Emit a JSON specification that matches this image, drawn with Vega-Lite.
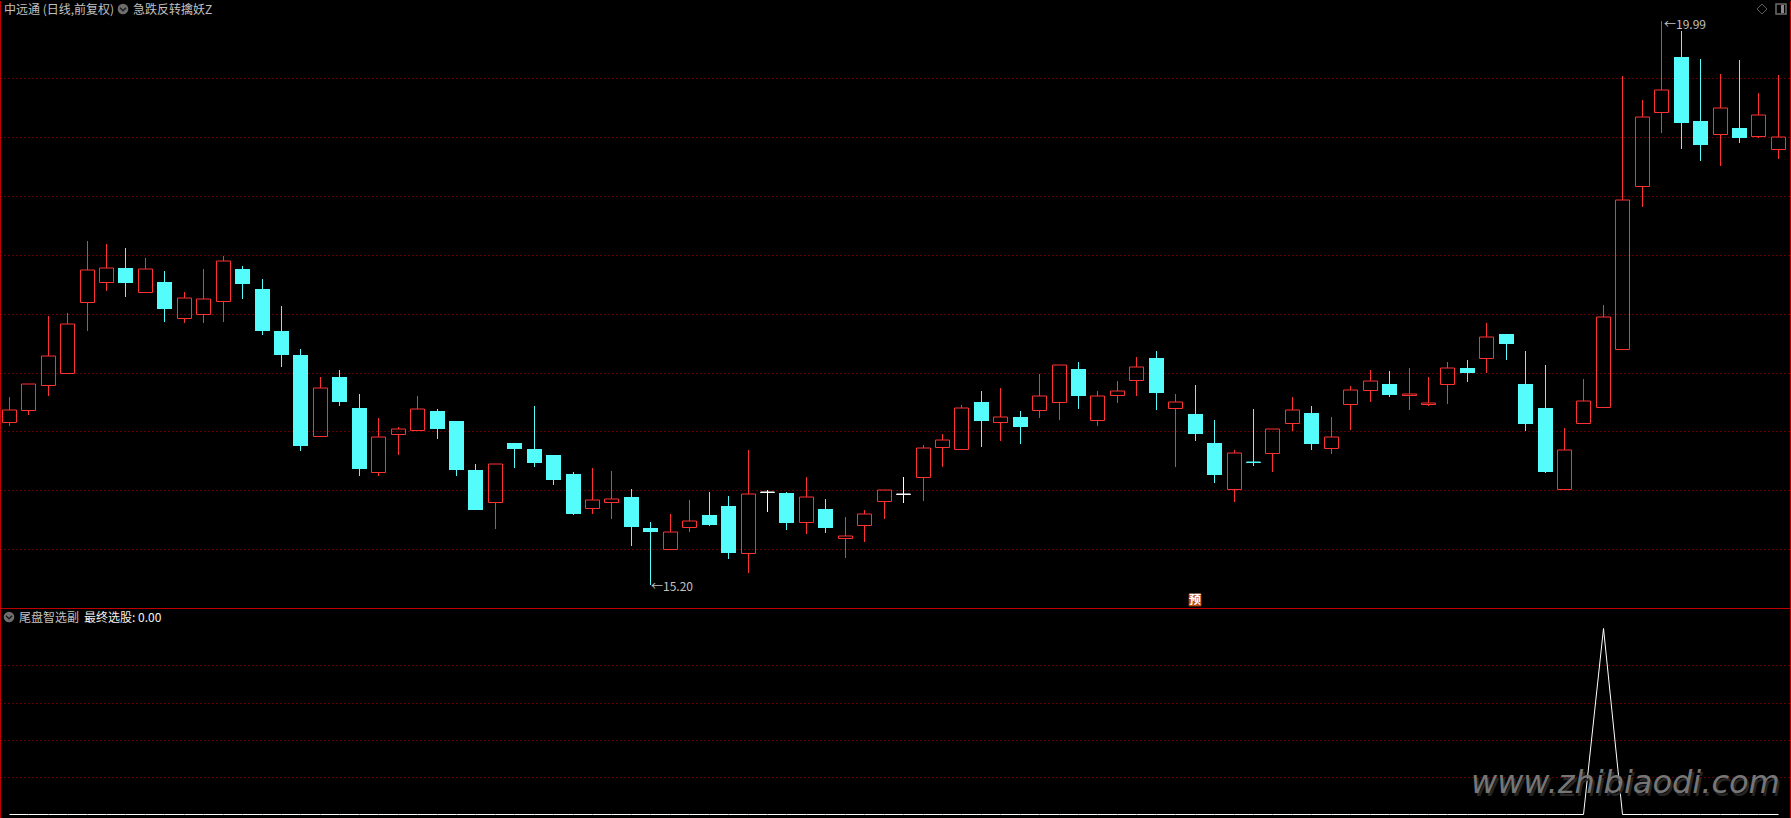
{
"$schema":"https://vega.github.io/schema/vega-lite/v6.json",
"background":"#000000",
"padding":0,
"spacing":0,
"bounds":"flush",
"config":{"view":{"stroke":null},"concat":{"spacing":0}},
"datasets":{
"candles":[
{"i":0,"open":16.580,"high":16.792,"low":16.546,"close":16.682,"kind":"up"},
{"i":1,"open":16.682,"high":16.902,"low":16.640,"close":16.902,"kind":"up"},
{"i":2,"open":16.894,"high":17.480,"low":16.800,"close":17.140,"kind":"up"},
{"i":3,"open":16.996,"high":17.506,"low":16.996,"close":17.412,"kind":"up"},
{"i":4,"open":17.599,"high":18.118,"low":17.353,"close":17.871,"kind":"up"},
{"i":5,"open":17.769,"high":18.092,"low":17.693,"close":17.888,"kind":"up"},
{"i":6,"open":17.888,"high":18.058,"low":17.642,"close":17.761,"kind":"down"},
{"i":7,"open":17.684,"high":17.973,"low":17.684,"close":17.880,"kind":"up"},
{"i":8,"open":17.769,"high":17.863,"low":17.429,"close":17.540,"kind":"down"},
{"i":9,"open":17.463,"high":17.684,"low":17.421,"close":17.633,"kind":"up"},
{"i":10,"open":17.497,"high":17.880,"low":17.421,"close":17.625,"kind":"up"},
{"i":11,"open":17.608,"high":17.990,"low":17.429,"close":17.948,"kind":"up"},
{"i":12,"open":17.880,"high":17.905,"low":17.625,"close":17.752,"kind":"down"},
{"i":13,"open":17.710,"high":17.795,"low":17.319,"close":17.353,"kind":"down"},
{"i":14,"open":17.353,"high":17.565,"low":17.047,"close":17.149,"kind":"down"},
{"i":15,"open":17.149,"high":17.200,"low":16.334,"close":16.376,"kind":"down"},
{"i":16,"open":16.461,"high":16.962,"low":16.461,"close":16.868,"kind":"up"},
{"i":17,"open":16.962,"high":17.021,"low":16.716,"close":16.750,"kind":"down"},
{"i":18,"open":16.699,"high":16.817,"low":16.121,"close":16.181,"kind":"down"},
{"i":19,"open":16.155,"high":16.614,"low":16.121,"close":16.453,"kind":"up"},
{"i":20,"open":16.478,"high":16.538,"low":16.300,"close":16.521,"kind":"up"},
{"i":21,"open":16.512,"high":16.800,"low":16.512,"close":16.691,"kind":"up"},
{"i":22,"open":16.674,"high":16.691,"low":16.436,"close":16.521,"kind":"down"},
{"i":23,"open":16.589,"high":16.589,"low":16.121,"close":16.172,"kind":"down"},
{"i":24,"open":16.172,"high":16.223,"low":15.832,"close":15.832,"kind":"down"},
{"i":25,"open":15.900,"high":16.223,"low":15.671,"close":16.223,"kind":"up"},
{"i":26,"open":16.402,"high":16.402,"low":16.189,"close":16.351,"kind":"down"},
{"i":27,"open":16.351,"high":16.716,"low":16.198,"close":16.232,"kind":"down"},
{"i":28,"open":16.300,"high":16.300,"low":16.045,"close":16.087,"kind":"down"},
{"i":29,"open":16.138,"high":16.155,"low":15.790,"close":15.798,"kind":"down"},
{"i":30,"open":15.849,"high":16.189,"low":15.798,"close":15.917,"kind":"up"},
{"i":31,"open":15.900,"high":16.164,"low":15.756,"close":15.926,"kind":"up"},
{"i":32,"open":15.943,"high":16.011,"low":15.526,"close":15.688,"kind":"down"},
{"i":33,"open":15.679,"high":15.730,"low":15.195,"close":15.645,"kind":"down"},
{"i":34,"open":15.501,"high":15.798,"low":15.501,"close":15.645,"kind":"up"},
{"i":35,"open":15.688,"high":15.917,"low":15.645,"close":15.739,"kind":"up"},
{"i":36,"open":15.790,"high":15.985,"low":15.696,"close":15.705,"kind":"down"},
{"i":37,"open":15.866,"high":15.951,"low":15.416,"close":15.467,"kind":"down"},
{"i":38,"open":15.467,"high":16.342,"low":15.297,"close":15.968,"kind":"up"},
{"i":39,"open":15.985,"high":16.002,"low":15.815,"close":15.985,"kind":"flat"},
{"i":40,"open":15.977,"high":15.985,"low":15.662,"close":15.722,"kind":"down"},
{"i":41,"open":15.730,"high":16.113,"low":15.628,"close":15.943,"kind":"up"},
{"i":42,"open":15.841,"high":15.926,"low":15.637,"close":15.679,"kind":"down"},
{"i":43,"open":15.594,"high":15.773,"low":15.424,"close":15.611,"kind":"up"},
{"i":44,"open":15.705,"high":15.832,"low":15.560,"close":15.798,"kind":"up"},
{"i":45,"open":15.909,"high":16.002,"low":15.756,"close":16.002,"kind":"up"},
{"i":46,"open":15.968,"high":16.113,"low":15.892,"close":15.968,"kind":"flat"},
{"i":47,"open":16.113,"high":16.385,"low":15.909,"close":16.359,"kind":"up"},
{"i":48,"open":16.368,"high":16.478,"low":16.198,"close":16.427,"kind":"up"},
{"i":49,"open":16.351,"high":16.725,"low":16.351,"close":16.699,"kind":"up"},
{"i":50,"open":16.750,"high":16.843,"low":16.368,"close":16.589,"kind":"down"},
{"i":51,"open":16.580,"high":16.868,"low":16.419,"close":16.623,"kind":"up"},
{"i":52,"open":16.623,"high":16.674,"low":16.393,"close":16.538,"kind":"down"},
{"i":53,"open":16.682,"high":16.987,"low":16.614,"close":16.800,"kind":"up"},
{"i":54,"open":16.750,"high":17.064,"low":16.597,"close":17.064,"kind":"up"},
{"i":55,"open":17.030,"high":17.089,"low":16.691,"close":16.800,"kind":"down"},
{"i":56,"open":16.597,"high":16.843,"low":16.546,"close":16.800,"kind":"up"},
{"i":57,"open":16.809,"high":16.928,"low":16.742,"close":16.843,"kind":"up"},
{"i":58,"open":16.936,"high":17.132,"low":16.800,"close":17.047,"kind":"up"},
{"i":59,"open":17.123,"high":17.183,"low":16.682,"close":16.826,"kind":"down"},
{"i":60,"open":16.699,"high":16.817,"low":16.198,"close":16.750,"kind":"up"},
{"i":61,"open":16.648,"high":16.894,"low":16.419,"close":16.478,"kind":"down"},
{"i":62,"open":16.402,"high":16.597,"low":16.062,"close":16.130,"kind":"down"},
{"i":63,"open":16.011,"high":16.342,"low":15.900,"close":16.317,"kind":"up"},
{"i":64,"open":16.240,"high":16.691,"low":16.206,"close":16.240,"kind":"flatdown"},
{"i":65,"open":16.317,"high":16.521,"low":16.155,"close":16.521,"kind":"up"},
{"i":66,"open":16.572,"high":16.792,"low":16.504,"close":16.682,"kind":"up"},
{"i":67,"open":16.657,"high":16.716,"low":16.342,"close":16.393,"kind":"down"},
{"i":68,"open":16.359,"high":16.623,"low":16.308,"close":16.453,"kind":"up"},
{"i":69,"open":16.733,"high":16.885,"low":16.512,"close":16.851,"kind":"up"},
{"i":70,"open":16.851,"high":17.021,"low":16.750,"close":16.928,"kind":"up"},
{"i":71,"open":16.902,"high":17.013,"low":16.792,"close":16.809,"kind":"down"},
{"i":72,"open":16.809,"high":17.038,"low":16.682,"close":16.817,"kind":"up"},
{"i":73,"open":16.733,"high":16.962,"low":16.716,"close":16.742,"kind":"up"},
{"i":74,"open":16.902,"high":17.089,"low":16.733,"close":17.038,"kind":"up"},
{"i":75,"open":17.038,"high":17.106,"low":16.919,"close":16.996,"kind":"down"},
{"i":76,"open":17.123,"high":17.421,"low":16.996,"close":17.302,"kind":"up"},
{"i":77,"open":17.327,"high":17.327,"low":17.106,"close":17.242,"kind":"down"},
{"i":78,"open":16.902,"high":17.183,"low":16.504,"close":16.563,"kind":"down"},
{"i":79,"open":16.699,"high":17.064,"low":16.147,"close":16.155,"kind":"down"},
{"i":80,"open":16.011,"high":16.529,"low":16.011,"close":16.342,"kind":"up"},
{"i":81,"open":16.572,"high":16.945,"low":16.572,"close":16.759,"kind":"up"},
{"i":82,"open":16.708,"high":17.574,"low":16.708,"close":17.472,"kind":"up"},
{"i":83,"open":17.200,"high":19.519,"low":17.200,"close":18.466,"kind":"up"},
{"i":84,"open":18.584,"high":19.315,"low":18.407,"close":19.171,"kind":"up"},
{"i":85,"open":19.213,"high":19.990,"low":19.035,"close":19.400,"kind":"up"},
{"i":86,"open":19.681,"high":19.902,"low":18.899,"close":19.120,"kind":"down"},
{"i":87,"open":19.137,"high":19.664,"low":18.797,"close":18.933,"kind":"down"},
{"i":88,"open":19.026,"high":19.536,"low":18.754,"close":19.247,"kind":"up"},
{"i":89,"open":19.077,"high":19.655,"low":18.950,"close":18.992,"kind":"down"},
{"i":90,"open":19.009,"high":19.375,"low":18.992,"close":19.188,"kind":"up"},
{"i":91,"open":18.899,"high":19.528,"low":18.814,"close":19.001,"kind":"up"}
],
"signal":[
{"i":0,"v":0},{"i":1,"v":0},{"i":2,"v":0},{"i":3,"v":0},{"i":4,"v":0},{"i":5,"v":0},{"i":6,"v":0},{"i":7,"v":0},{"i":8,"v":0},{"i":9,"v":0},
{"i":10,"v":0},{"i":11,"v":0},{"i":12,"v":0},{"i":13,"v":0},{"i":14,"v":0},{"i":15,"v":0},{"i":16,"v":0},{"i":17,"v":0},{"i":18,"v":0},{"i":19,"v":0},
{"i":20,"v":0},{"i":21,"v":0},{"i":22,"v":0},{"i":23,"v":0},{"i":24,"v":0},{"i":25,"v":0},{"i":26,"v":0},{"i":27,"v":0},{"i":28,"v":0},{"i":29,"v":0},
{"i":30,"v":0},{"i":31,"v":0},{"i":32,"v":0},{"i":33,"v":0},{"i":34,"v":0},{"i":35,"v":0},{"i":36,"v":0},{"i":37,"v":0},{"i":38,"v":0},{"i":39,"v":0},
{"i":40,"v":0},{"i":41,"v":0},{"i":42,"v":0},{"i":43,"v":0},{"i":44,"v":0},{"i":45,"v":0},{"i":46,"v":0},{"i":47,"v":0},{"i":48,"v":0},{"i":49,"v":0},
{"i":50,"v":0},{"i":51,"v":0},{"i":52,"v":0},{"i":53,"v":0},{"i":54,"v":0},{"i":55,"v":0},{"i":56,"v":0},{"i":57,"v":0},{"i":58,"v":0},{"i":59,"v":0},
{"i":60,"v":0},{"i":61,"v":0},{"i":62,"v":0},{"i":63,"v":0},{"i":64,"v":0},{"i":65,"v":0},{"i":66,"v":0},{"i":67,"v":0},{"i":68,"v":0},{"i":69,"v":0},
{"i":70,"v":0},{"i":71,"v":0},{"i":72,"v":0},{"i":73,"v":0},{"i":74,"v":0},{"i":75,"v":0},{"i":76,"v":0},{"i":77,"v":0},{"i":78,"v":0},{"i":79,"v":0},
{"i":80,"v":0},{"i":81,"v":0},{"i":82,"v":1},{"i":83,"v":0},{"i":84,"v":0},{"i":85,"v":0},{"i":86,"v":0},{"i":87,"v":0},{"i":88,"v":0},{"i":89,"v":0},
{"i":90,"v":0},{"i":91,"v":0}
],
"topEdges":[{"i":-0.4552,"y0":20.157,"y1":14.9996},{"i":91.624,"y0":20.157,"y1":14.9996}],
"lowerEdges":[{"i":-0.4552,"y0":1.1079,"y1":-0.01932},{"i":91.624,"y0":1.1079,"y1":-0.01932}],
"topLabels":[
{"label":"中远通 (日线,前复权)","i":-0.249,"p":20.081},
{"label":"急跌反转擒妖Z","i":6.386,"p":20.081},
{"label":"←15.20","i":33.03,"p":15.175},
{"label":"←19.99","i":85.15,"p":19.953}
],
"topChevrons":[{"i":5.872,"p":20.089}],
"badge":[{"i":61,"p":15.064,"label":"预"}],
"diamond":[{"i":90.18,"p":20.089}],
"panelIcon":[{"i":91.15,"p":20.089}],
"separator":[{"i":-0.4038,"i2":91.624,"v":1.1079}],
"lowerLabels":[{"label":"尾盘智选副","i":0.522,"v":1.0543}],
"lowerValue":[{"label":"最终选股: 0.00","i":3.866,"v":1.0543}],
"lowerChevron":[{"i":0.008,"v":1.0596}],
"watermark":[{"label":"www.zhibiaodi.com","i":75.22,"v":0.115}]
},
"vconcat":[
{
"width":1791,"height":608,
"encoding":{"x":{"field":"i","type":"quantitative","axis":null,"scale":{"domain":[-0.4552,91.675],"nice":false,"zero":false,"round":true,"padding":0}}},
"layer":[
{"data":{"name":"candles"},"transform":[{"filter":"datum.kind==='up'"}],
 "mark":{"type":"rule","strokeWidth":1,"xOffset":0.5},
 "encoding":{"y":{"field":"high","type":"quantitative","scale":{"domain":[14.9996,20.1653],"nice":false,"zero":false,"round":true},"axis":{"values":[15.5,16,16.5,17,17.5,18,18.5,19,19.5],"labels":false,"ticks":false,"domain":false,"title":null,"grid":true,"gridColor":"#c00000","gridDash":[1,3],"gridWidth":1}},"y2":{"field":"close"},"color":{"field":"kind","type":"nominal","legend":null,"scale":{"domain":["up","down","flat","flatdown"],"range":["#ff3232","#54fcfc","#ffffff","#54fcfc"]}}}},
{"data":{"name":"candles"},"transform":[{"filter":"datum.kind==='up'"}],
 "mark":{"type":"rule","strokeWidth":1,"xOffset":0.5},
 "encoding":{"y":{"field":"open","type":"quantitative"},"y2":{"field":"low"},"color":{"field":"kind","type":"nominal","legend":null}}},
{"data":{"name":"candles"},"transform":[{"filter":"datum.kind==='up'"}],
 "mark":{"type":"bar","filled":false,"size":14,"strokeWidth":1,"xOffset":0.5,"yOffset":0.5},
 "encoding":{"y":{"field":"open","type":"quantitative"},"y2":{"field":"close"},"color":{"field":"kind","type":"nominal","legend":null}}},
{"data":{"name":"candles"},"transform":[{"filter":"datum.kind==='down'"}],
 "mark":{"type":"rule","strokeWidth":1,"xOffset":0.5},
 "encoding":{"y":{"field":"high","type":"quantitative"},"y2":{"field":"low"},"color":{"field":"kind","type":"nominal","legend":null}}},
{"data":{"name":"candles"},"transform":[{"filter":"datum.kind==='down'"}],
 "mark":{"type":"bar","size":15,"xOffset":0.5},
 "encoding":{"y":{"field":"open","type":"quantitative"},"y2":{"field":"close"},"color":{"field":"kind","type":"nominal","legend":null}}},
{"data":{"name":"candles"},"transform":[{"filter":"datum.kind==='flat'||datum.kind==='flatdown'"}],
 "mark":{"type":"rule","strokeWidth":1,"xOffset":0.5},
 "encoding":{"y":{"field":"high","type":"quantitative"},"y2":{"field":"low"},"color":{"field":"kind","type":"nominal","legend":null}}},
{"data":{"name":"candles"},"transform":[{"filter":"datum.kind==='flat'||datum.kind==='flatdown'"}],
 "mark":{"type":"bar","filled":false,"size":14,"strokeWidth":1,"xOffset":0.5,"yOffset":0.5},
 "encoding":{"y":{"field":"open","type":"quantitative"},"y2":{"field":"close"},"color":{"field":"kind","type":"nominal","legend":null}}},
{"data":{"name":"topEdges"},"mark":{"type":"rule","color":"#c00000","strokeWidth":1,"xOffset":0.5},
 "encoding":{"y":{"field":"y0","type":"quantitative"},"y2":{"field":"y1"}}},
{"data":{"name":"topLabels"},"mark":{"type":"text","align":"left","baseline":"middle","font":"Noto Sans CJK SC","fontSize":12,"color":"#c0c0c0"},
 "encoding":{"y":{"field":"p","type":"quantitative"},"text":{"field":"label"}}},
{"data":{"name":"topChevrons"},"mark":{"type":"point","shape":"circle","filled":true,"size":113,"color":"#6e6e6e","opacity":1},
 "encoding":{"y":{"field":"p","type":"quantitative"}}},
{"data":{"name":"topChevrons"},"mark":{"type":"point","shape":"M-0.5,-0.2L0,0.3L0.5,-0.2","filled":false,"size":144,"strokeWidth":1.5,"color":"#1e1e1e","opacity":1},
 "encoding":{"y":{"field":"p","type":"quantitative"}}},
{"data":{"name":"diamond"},"mark":{"type":"point","shape":"diamond","filled":false,"size":100,"strokeWidth":1,"color":"#5a5a5a","opacity":1},
 "encoding":{"y":{"field":"p","type":"quantitative"}}},
{"data":{"name":"panelIcon"},"mark":{"type":"point","shape":"square","filled":false,"size":100,"strokeWidth":1.5,"color":"#6e6e6e","opacity":1},
 "encoding":{"y":{"field":"p","type":"quantitative"}}},
{"data":{"name":"panelIcon"},"mark":{"type":"point","shape":"M0,-0.8L0.6,-0.8L0.6,0.8L0,0.8Z","filled":true,"size":100,"color":"#8a8a8a","opacity":1},
 "encoding":{"y":{"field":"p","type":"quantitative"}}},
{"data":{"name":"badge"},"mark":{"type":"point","shape":"square","filled":true,"size":160,"color":"#c04a10","opacity":1},
 "encoding":{"y":{"field":"p","type":"quantitative"}}},
{"data":{"name":"badge"},"mark":{"type":"text","align":"center","baseline":"middle","font":"Noto Sans CJK SC","fontSize":12,"fontWeight":"bold","color":"#ffffff"},
 "encoding":{"y":{"field":"p","type":"quantitative"},"text":{"field":"label"}}}
]
},
{
"width":1791,"height":210,
"encoding":{"x":{"field":"i","type":"quantitative","axis":null,"scale":{"domain":[-0.4552,91.675],"nice":false,"zero":false,"round":true,"padding":0}}},
"layer":[
{"data":{"name":"signal"},
 "mark":{"type":"line","color":"#ffffff","strokeWidth":1,"xOffset":0.5,"yOffset":0.5},
 "encoding":{"y":{"field":"v","type":"quantitative","scale":{"domain":[-0.01932,1.10789],"nice":false,"zero":false,"round":true},"axis":{"values":[0.2,0.4,0.6,0.8],"labels":false,"ticks":false,"domain":false,"title":null,"grid":true,"gridColor":"#c00000","gridDash":[1,3],"gridWidth":1}}}},
{"data":{"name":"lowerEdges"},"mark":{"type":"rule","color":"#c00000","strokeWidth":1,"xOffset":0.5},
 "encoding":{"y":{"field":"y0","type":"quantitative"},"y2":{"field":"y1"}}},
{"data":{"name":"separator"},"mark":{"type":"rule","color":"#c00000","strokeWidth":1,"yOffset":0.5},
 "encoding":{"x2":{"field":"i2"},"y":{"field":"v","type":"quantitative"}}},
{"data":{"name":"lowerChevron"},"mark":{"type":"point","shape":"circle","filled":true,"size":113,"color":"#6e6e6e","opacity":1},
 "encoding":{"y":{"field":"v","type":"quantitative"}}},
{"data":{"name":"lowerChevron"},"mark":{"type":"point","shape":"M-0.5,-0.2L0,0.3L0.5,-0.2","filled":false,"size":144,"strokeWidth":1.5,"color":"#1e1e1e","opacity":1},
 "encoding":{"y":{"field":"v","type":"quantitative"}}},
{"data":{"name":"lowerLabels"},"mark":{"type":"text","align":"left","baseline":"middle","font":"Noto Sans CJK SC","fontSize":12,"color":"#c0c0c0"},
 "encoding":{"y":{"field":"v","type":"quantitative"},"text":{"field":"label"}}},
{"data":{"name":"lowerValue"},"mark":{"type":"text","align":"left","baseline":"middle","font":"Noto Sans CJK SC","fontSize":12,"color":"#f0f0f0"},
 "encoding":{"y":{"field":"v","type":"quantitative"},"text":{"field":"label"}}},
{"data":{"name":"watermark"},"mark":{"type":"text","align":"left","baseline":"alphabetic","font":"DejaVu Sans","fontStyle":"italic","fontSize":32,"color":"#252525","dx":2,"dy":3},
 "encoding":{"y":{"field":"v","type":"quantitative"},"text":{"field":"label"}}},
{"data":{"name":"watermark"},"mark":{"type":"text","align":"left","baseline":"alphabetic","font":"DejaVu Sans","fontStyle":"italic","fontSize":32,"color":"#767676"},
 "encoding":{"y":{"field":"v","type":"quantitative"},"text":{"field":"label"}}}
]
}
]
}
